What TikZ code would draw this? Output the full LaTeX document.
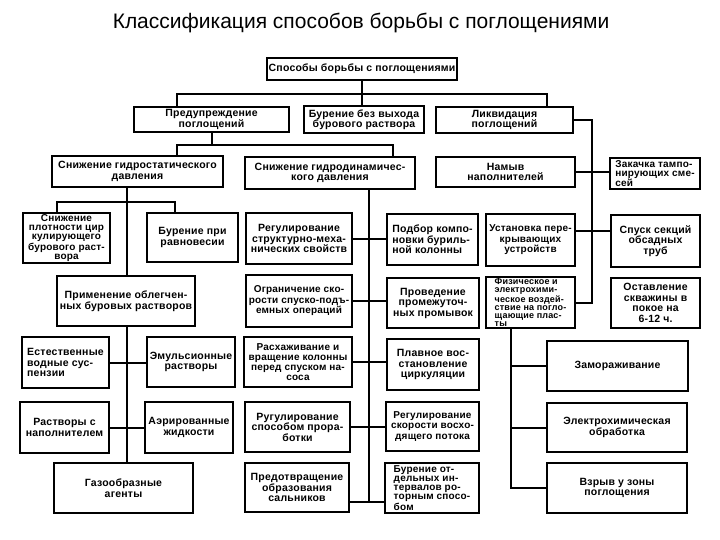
\documentclass[tikz,border=0pt]{standalone}
\usepackage{fontspec}
\setmainfont{Liberation Sans}
\newfontfamily\blkfont{Liberation Sans}[LetterSpace=2]

\tikzset{
  blk/.style 2 args={draw, line width=2.2pt, minimum width=#1pt, minimum height=#2pt,
    inner sep=0.5pt, align=center, font=\blkfont\bfseries\fontsize{10.5}{10.5}\selectfont},
  tight/.style 2 args={font=\blkfont\bfseries\fontsize{#1}{#2}\selectfont},
  lnk/.style={line width=2pt},
}

\begin{document}
\begin{tikzpicture}[x=1pt,y=-1pt]
  \useasboundingbox (0,0) rectangle (720,540);
  \node[anchor=base,font=\fontsize{21}{24}\selectfont] (title) at (361,29)
    {Классификация способов борьбы с поглощениями};

  % first and second levels
  \node[blk={190}{22}] (top) at (362,69) {Способы борьбы с поглощениями};
  \node[blk={155}{25}] (prev) at (211.5,119.5) {Предупреждение\\поглощений};
  \node[blk={120}{27}] (burn) at (364,119.5) {Бурение без выхода\\бурового раствора};
  \node[blk={137}{26}] (likv) at (504.5,120) {Ликвидация\\поглощений};

  \node[blk={171}{31}] (hstat) at (137.5,171.5) {Снижение гидростатического\\давления};
  \node[blk={170}{32}] (hdin) at (330,173) {Снижение гидродинамичес-\\кого давления};
  \node[blk={139}{30}] (namyv) at (505.5,172) {Намыв\\наполнителей};
  \node[blk={90}{31},align=left,tight={10}{9}] (zakach) at (655,173.5) {Закачка тампо-\\нирующих сме-\\сей};

  % left column
  \node[blk={87}{50},tight={10}{9.2}] (snpl) at (66.5,238) {Снижение\\плотности цир\\кулирующего\\бурового раст-\\вора};
  \node[blk={91}{49}] (ravn) at (192.5,237.5) {Бурение при\\равновесии};
  \node[blk={138}{50}] (oblg) at (126,301) {Применение облегчен-\\ных буровых растворов};
  \node[blk={87}{51},align=left] (estv) at (65.5,362.5) {Естественные\\водные сус-\\пензии};
  \node[blk={88}{50}] (emul) at (191,362) {Эмульсионные\\растворы};
  \node[blk={89}{51}] (napl) at (64.5,427.5) {Растворы с\\наполнителем};
  \node[blk={88}{51}] (aer) at (189,427.5) {Аэрированные\\жидкости};
  \node[blk={139}{50}] (gaz) at (123.5,488) {Газообразные\\агенты};

  % middle column
  \node[blk={106}{51}] (regs) at (299,238.5) {Регулирование\\структурно-меха-\\нических свойств};
  \node[blk={91}{51},align=left] (podb) at (432.5,239.5) {Подбор компо-\\новки буриль-\\ной колонны};
  \node[blk={106}{52},tight={10}{10.5}] (ogr) at (299,301) {Ограничение ско-\\рости спуско-подъ-\\емных операций};
  \node[blk={92}{50}] (prov) at (433,303) {Проведение\\промежуточ-\\ных промывок};
  \node[blk={108}{50},tight={10}{10}] (rash) at (298,362) {Расхаживание и\\вращение колонны\\перед спуском на-\\соса};
  \node[blk={92}{51}] (plav) at (433,364.5) {Плавное вос-\\становление\\циркуляции};
  \node[blk={105}{50}] (rug) at (297.5,427) {Ругулирование\\способом прора-\\ботки};
  \node[blk={93}{49},tight={10}{10.5}] (regsk) at (432.5,426.5) {Регулирование\\скорости восхо-\\дящего потока};
  \node[blk={104}{49}] (sal) at (297,487.5) {Предотвращение\\образования\\сальников};
  \node[blk={94}{50},align=left,tight={10}{9}] (burot) at (432,488) {Бурение от-\\дельных ин-\\тервалов ро-\\торным спосо-\\бом};

  % right column
  \node[blk={89}{52},tight={10}{10.5}] (ustn) at (530.5,240) {Установка пере-\\крывающих\\устройств};
  \node[blk={89}{52}] (spusk) at (655.5,241) {Спуск секций\\обсадных\\труб};
  \node[blk={89}{51},align=left,tight={9}{8.2}] (fiz) at (530.5,302.5) {Физическое и\\электрохими-\\ческое воздей-\\ствие на погло-\\щающие плас-\\ты};
  \node[blk={89}{50}] (ostv) at (655.5,303) {Оставление\\скважины в\\покое на\\6-12 ч.};
  \node[blk={141}{50}] (zamor) at (617.5,366) {Замораживание};
  \node[blk={140}{49}] (elek) at (617,427.5) {Электрохимическая\\обработка};
  \node[blk={140}{50}] (vzr) at (617,488) {Взрыв у зоны\\поглощения};

  % connectors
  \coordinate (b0l) at (177,94);
  \coordinate (b0r) at (547,94);
  \draw[lnk] (top.south) -- (top.south |- burn.north);
  \draw[lnk] (prev.north -| b0l) -- (b0l) -- (b0r) -- (likv.north -| b0r);

  \coordinate (b1l) at (177,145);
  \coordinate (b1r) at (393,145);
  \draw[lnk] (prev.south) -- (prev.south |- b1l);
  \draw[lnk] (hstat.north -| b1l) -- (b1l) -- (b1r) -- (hdin.north -| b1r);

  \coordinate (lx) at (127,0);
  \coordinate (b2l) at (57,202);
  \coordinate (b2r) at (175,202);
  \draw[lnk] (hstat.south -| lx) -- (oblg.north -| lx);
  \draw[lnk] (oblg.south -| lx) -- (gaz.north -| lx);
  \draw[lnk] (snpl.north -| b2l) -- (b2l) -- (b2r) -- (ravn.north -| b2r);
  \foreach \a/\b in {estv/emul, napl/aer}
    \draw[lnk] (\a.east) -- (\a.east -| \b.west);

  \coordinate (mx) at (369,0);
  \draw[lnk] (hdin.south -| mx) -- ([yshift=-14pt]sal.east -| mx);
  \foreach \a/\b in {regs/podb, ogr/prov, rash/plav, rug/regsk}
    \draw[lnk] (\a.east) -- (\a.east -| \b.west);
  \draw[lnk] ([yshift=-14pt]sal.east) -- ([yshift=-14pt]sal.east -| burot.west);

  \coordinate (rx) at (592,0);
  \draw[lnk] (likv.east) -| (fiz.east -| rx) -- (fiz.east);
  \draw[lnk] (namyv.east) -- (namyv.east -| zakach.west);
  \draw[lnk] ([yshift=9pt]ustn.east) -- ([yshift=9pt]ustn.east -| spusk.west);

  \coordinate (fx) at (511,0);
  \draw[lnk] (fiz.south -| fx) |- (vzr.west);
  \foreach \b in {zamor, elek}
    \draw[lnk] (\b.west) -- (\b.west -| fx);
\end{tikzpicture}
\end{document}
